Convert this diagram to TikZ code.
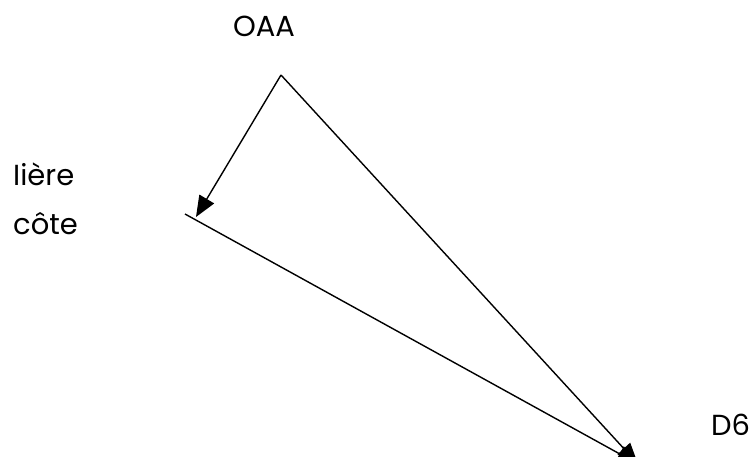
\documentclass[tikz,border=0pt]{standalone}
\usepackage{fontspec}
\setmainfont{Poppins}
\usetikzlibrary{arrows.meta}
\tikzset{
  lbl/.style={inner sep=0pt, font=\fontsize{29}{34}\selectfont},
  lblw/.style={lbl, anchor=base west},
  conn/.style={line width=1.4pt, -{Triangle[length=21pt,width=17pt]}}
}
\begin{document}
\begin{tikzpicture}[x=1pt,y=-1pt]
\useasboundingbox (0,0) rectangle (753,457);
\clip (0,0) rectangle (753,457);
\node[lbl, anchor=base] (oaa) at (264,37) {OAA};
\node[lblw] (iere) at (13,186) {Iière};
\node[lblw] (cote) at (13,235) {côte};
\node[lblw] (d6) at (711,435) {D6};
\coordinate (apex) at (281,75);
\coordinate (tipL) at (196,217);
\coordinate (left) at (185,214);
\coordinate (tipD) at (638,464);
\draw[conn] (apex) -- (tipL);
\draw[conn] (apex) -- (tipD);
\draw[conn] (left) -- (tipD);
\end{tikzpicture}
\end{document}
